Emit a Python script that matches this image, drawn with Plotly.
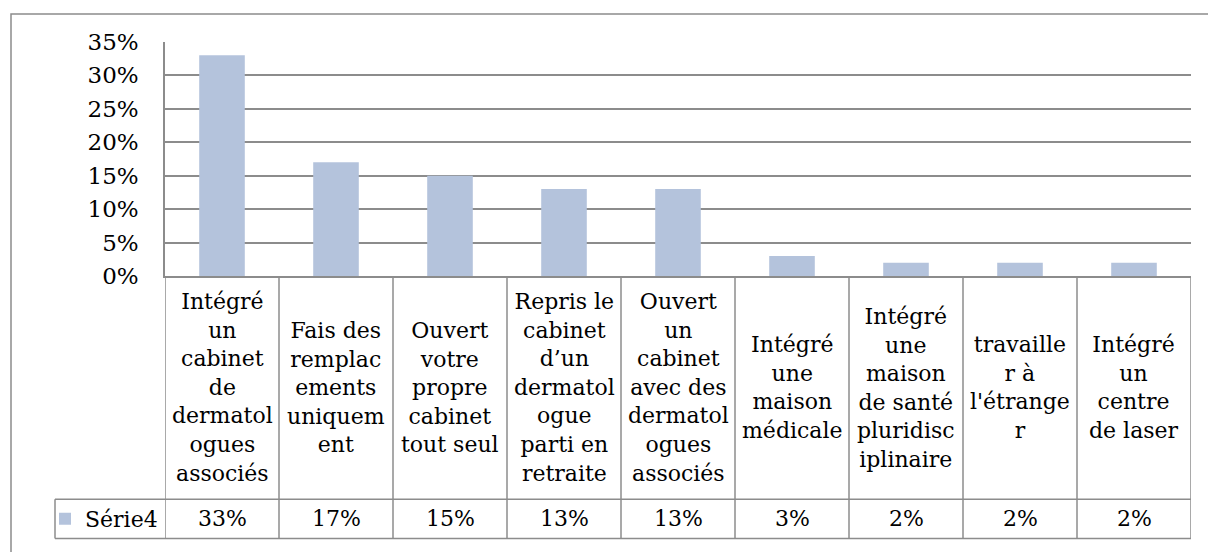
import plotly.graph_objects as go

# libellés des catégories (coupures de lignes comme dans le tableau Excel)
categories = [
    "Intégré<br>un<br>cabinet<br>de<br>dermatol<br>ogues<br>associés",
    "Fais des<br>remplac<br>ements<br>uniquem<br>ent",
    "Ouvert<br>votre<br>propre<br>cabinet<br>tout seul",
    "Repris le<br>cabinet<br>d’un<br>dermatol<br>ogue<br>parti en<br>retraite",
    "Ouvert<br>un<br>cabinet<br>avec des<br>dermatol<br>ogues<br>associés",
    "Intégré<br>une<br>maison<br>médicale",
    "Intégré<br>une<br>maison<br>de santé<br>pluridisc<br>iplinaire",
    "travaille<br>r à<br>l'étrange<br>r",
    "Intégré<br>un<br>centre<br>de laser",
]
valeurs = [0.33, 0.17, 0.15, 0.13, 0.13, 0.03, 0.02, 0.02, 0.02]
serie = "Série4"

FONT = "DejaVu Serif"
FS = 22
GRIS = "#8c8c8c"
BLEU = "#b4c3dc"

W, H = 1208, 552
L, R, T, B = 165, 17, 42, 272
pw, ph = W - L - R, H - T - B

def px_x(x):
    return (x - L) / pw

def px_y(y):
    return (H - B - y) / ph

y_mid = px_y(507)
y_bas = px_y(547)
x_leg = px_x(55)

fig = go.Figure()
fig.add_trace(go.Bar(
    x=list(range(len(valeurs))),
    y=valeurs,
    name=serie,
    marker=dict(color=BLEU, line=dict(width=0)),
    width=0.4,
    hoverinfo="skip",
))

shapes = []
# cadre extérieur du graphique
shapes.append(dict(type="rect", xref="paper", yref="paper",
                   x0=px_x(11), x1=px_x(1230), y0=px_y(580), y1=px_y(13.5),
                   line=dict(color=GRIS, width=1.5), layer="below"))
# tableau de données
for i in range(len(valeurs) + 1):
    shapes.append(dict(type="line", xref="x", yref="paper",
                       x0=i - 0.5, x1=i - 0.5, y0=0, y1=y_bas,
                       line=dict(color=GRIS, width=1.5)))
for yy in (y_mid, y_bas):
    shapes.append(dict(type="line", xref="paper", yref="paper",
                       x0=x_leg, x1=1, y0=yy, y1=yy,
                       line=dict(color=GRIS, width=1.5)))
shapes.append(dict(type="line", xref="paper", yref="paper",
                   x0=x_leg, x1=x_leg, y0=y_mid, y1=y_bas,
                   line=dict(color=GRIS, width=1.5)))

annotations = []
for i, (cat, v) in enumerate(zip(categories, valeurs)):
    annotations.append(dict(x=i, xref="x", y=y_mid / 2, yref="paper",
                            text=cat, showarrow=False, align="center",
                            xanchor="center", yanchor="middle",
                            font=dict(family=FONT, size=FS, color="black")))
    annotations.append(dict(x=i, xref="x", y=(y_mid + y_bas) / 2, yref="paper",
                            text=f"{v:.0%}", showarrow=False,
                            xanchor="center", yanchor="middle",
                            font=dict(family=FONT, size=FS, color="black")))

fig.update_layout(
    width=W, height=H,
    margin=dict(l=L, r=R, t=T, b=B),
    paper_bgcolor="white", plot_bgcolor="white",
    font=dict(family=FONT, size=FS, color="black"),
    showlegend=True,
    legend=dict(x=px_x(45), xanchor="left", y=(y_mid + y_bas) / 2, yanchor="middle",
                bgcolor="rgba(0,0,0,0)", font=dict(family=FONT, size=FS),
                itemwidth=30),
    shapes=shapes,
    annotations=annotations,
    xaxis=dict(range=[-0.5, len(valeurs) - 0.5], showticklabels=False,
               showgrid=False, zeroline=False, showline=True,
               linecolor=GRIS, linewidth=1.5, ticks=""),
    yaxis=dict(range=[0, 0.35], dtick=0.05, tickformat=".0%",
               showgrid=True, gridcolor=GRIS, gridwidth=1.5,
               zeroline=False, showline=True, linecolor=GRIS, linewidth=1.5,
               ticks="", ticklabelstandoff=20,
               tickfont=dict(family=FONT, size=23, color="black")),
    bargap=0.6,
)

# pas de marge autour du graphique dans la page
fig.write_html("out.html", config={"displayModeBar": False},
               post_script="document.body.style.margin='0';")
